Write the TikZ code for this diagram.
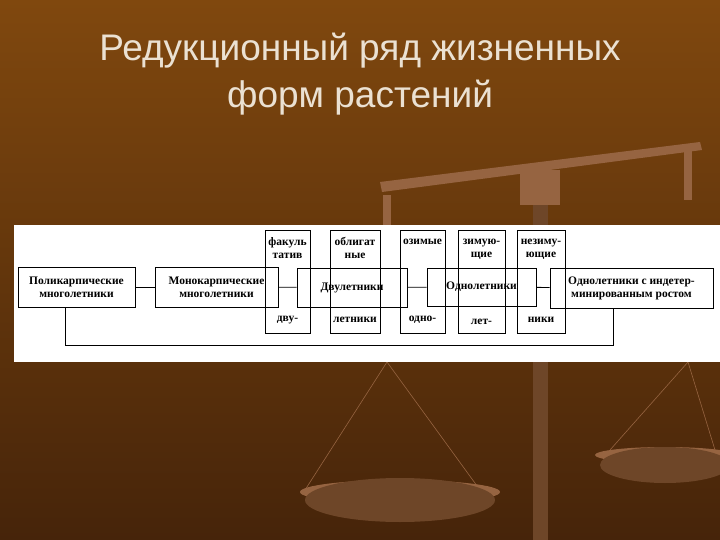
\documentclass[tikz,border=0pt]{standalone}
\usepackage{fontspec}
\setmainfont{Liberation Serif}
\newfontfamily\titlefont{Liberation Sans}
\definecolor{bgtop}{RGB}{128,72,14}
\definecolor{bgbot}{RGB}{70,36,10}
\definecolor{sclight}{RGB}{150,100,65}
\definecolor{scdark}{RGB}{110,70,40}
\definecolor{titlec}{RGB}{235,225,210}
\begin{document}
\begin{tikzpicture}[x=1pt,y=-1pt,
  rowbox/.style={draw,line width=0.8pt},
  colbox/.style={draw,line width=0.8pt},
  lbl/.style={font=\bfseries\fontsize{11.5}{13}\selectfont,align=center,inner sep=0pt},
  conn/.style={line width=0.8pt}]
\useasboundingbox (0,0) rectangle (720,540);
\shade[top color=bgtop,bottom color=bgbot] (0,0) rectangle (720,540);
% scales
\fill[scdark] (533,200) rectangle (548,540);
\fill[sclight] (380,182) -- (700,142) -- (702,150) -- (382,192) -- cycle;
\fill[sclight] (520,170) rectangle (560,205);
\fill[sclight] (383,195) rectangle (391,225);
\fill[sclight] (684,150) rectangle (692,200);
\draw[sclight,line width=0.6pt] (387,362) -- (305,490) (387,362) -- (480,490);
\draw[sclight,line width=0.6pt] (688,362) -- (610,450) (688,362) -- (715,450);
\fill[sclight] (400,492) ellipse[x radius=100,y radius=12];
\fill[scdark] (400,500) ellipse[x radius=95,y radius=22];
\fill[sclight] (665,455) ellipse[x radius=70,y radius=8];
\fill[scdark] (665,465) ellipse[x radius=65,y radius=18];
% title
\node[text=titlec,font=\titlefont\fontsize{37}{47}\selectfont,align=center] (title) at (360,74) {Редукционный ряд жизненных\\форм растений};
% panel
\fill[white] (14,225) rectangle (720,362);
% tall column boxes
\node[colbox,minimum width=45,minimum height=103] (c1) at (287.5,281.5) {};
\node[colbox,minimum width=50,minimum height=103] (c2) at (355,281.5) {};
\node[colbox,minimum width=45,minimum height=103] (c3) at (422.5,281.5) {};
\node[colbox,minimum width=47,minimum height=103] (c4) at (481.5,281.5) {};
\node[colbox,minimum width=48,minimum height=103] (c5) at (541,281.5) {};
\node[lbl] (t1) at (287.5,248) {факуль\\татив};
\node[lbl] (t2) at (355,248) {облигат\\ные};
\node[lbl] (t3) at (422.5,242) {озимые};
\node[lbl] (t4) at (481.5,249) {зимую-\\щие};
\node[lbl] (t5) at (541,249) {незиму-\\ющие};
\node[lbl] (b1) at (287.5,320) {дву-};
\node[lbl] (b2) at (355,320) {летники};
\node[lbl] (b3) at (422.5,320) {одно-};
\node[lbl] (b4) at (481.5,322) {лет-};
\node[lbl] (b5) at (541,320) {ники};
% row boxes
\node[rowbox,minimum width=117,minimum height=40,lbl] (p) at (76.5,287) {Поликарпические\\многолетники};
\node[rowbox,minimum width=123,minimum height=40,lbl] (m) at (216.5,287) {Монокарпические\\многолетники};
\node[rowbox,minimum width=110,minimum height=39,lbl] (d) at (352,287.5) {Двулетники};
\node[rowbox,minimum width=109,minimum height=38,lbl] (o) at (481.5,287) {Однолетники};
\node[rowbox,minimum width=163,minimum height=40,lbl] (i) at (631.5,288) {Однолетники с индетер-\\минированным ростом};
\draw[conn] (p) -- (m);
\draw[conn] (m) -- (d);
\draw[conn] (d) -- (o);
\draw[conn] (o) -- (i);
\draw[conn] (p.south -| 65,0) -- (65,345) -- (613,345) -- (i.south -| 613,0);
\end{tikzpicture}
\end{document}
